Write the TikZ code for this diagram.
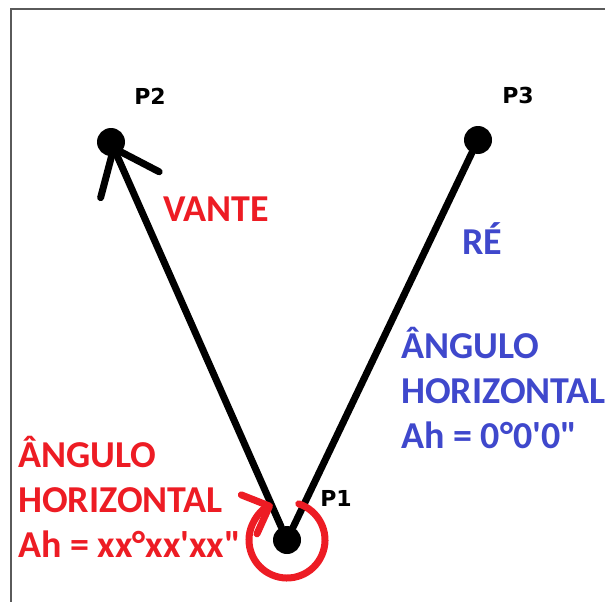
\documentclass[tikz,border=0pt]{standalone}
\usepackage{fontspec}
\newfontfamily\lblfont{Carlito}[Ligatures=TeXOff]
\newfontfamily\ptfont{DejaVu Sans}
\usetikzlibrary{arrows.meta}
\definecolor{Vc}{HTML}{ED1C24}
\definecolor{Rc}{HTML}{3F48CC}
\definecolor{Fc}{HTML}{5A5A5A}

\begin{document}
\begin{tikzpicture}[x=1pt, y=-1pt,
    pt/.style={circle, fill=black, inner sep=0pt, minimum size=28pt},
    plabel/.style={font=\ptfont\bfseries\fontsize{22}{26}\selectfont, inner sep=0pt},
    leg/.style={draw, line width=7pt, line cap=round},
    txt/.style={font=\lblfont\bfseries\fontsize{38}{45}\selectfont, inner sep=0pt, align=left}]
  \useasboundingbox (0,0) rectangle (605,602);
  \draw[Fc, line width=1.6pt] (11,602) |- (605,9);
  % stations
  \node[pt] (p1) at (287,540) {};
  \node[pt] (p2) at (111,142) {};
  \node[pt] (p3) at (478,140) {};
  \node[plabel] (l1) at (336,498) {P1};
  \node[plabel] (l2) at (150,96) {P2};
  \node[plabel] (l3) at (518,95) {P3};
  % sightings
  \draw[leg, shorten >=-11pt, -{Straight Barb[round, length=40pt, width=64pt]}] (p1) -- (p2);
  \draw[leg] (p1) -- (p3);
  \draw[Vc, line width=7pt, line cap=round, -{Straight Barb[round, length=22pt, width=42pt]}]
    (p1) ++(-72:38) arc[start angle=-72, end angle=248, radius=38];
  % labels
  \node[txt, Vc] (vante) at (216,209) {VANTE};
  \node[txt, Rc] (re) at (482,239) {RÉ};
  \node[txt, Rc, anchor=north west] (ahre) at (401,327) {ÂNGULO\\HORIZONTAL\\Ah = 0°0'0"};
  \node[txt, Vc, anchor=north west] (ahvante) at (18,436) {ÂNGULO\\HORIZONTAL\\Ah = xx°xx'xx"};
\end{tikzpicture}
\end{document}
